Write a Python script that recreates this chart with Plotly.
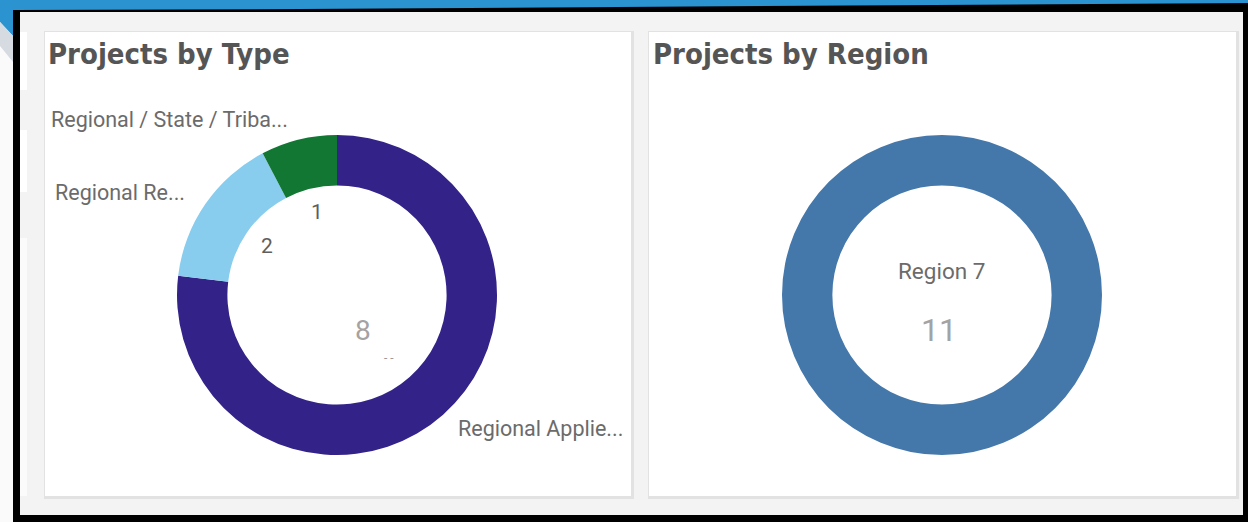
import plotly.graph_objects as go

W, H = 1248, 522

# ---- data ----
type_labels = ["Regional Applied Research", "Regional Research", "Regional / State / Tribal"]
type_short = ["Regional Applie...", "Regional Re...", "Regional / State / Triba..."]
type_values = [10, 2, 1]            # arc sizes read from the ring
type_value_text = ["8", "2", "1"]   # numbers printed on the ring
type_colors = ["#332288", "#88ccee", "#117733"]

region_labels = ["Region 7"]
region_values = [11]
region_colors = ["#4477aa"]

titles = ["Projects by Type", "Projects by Region"]


def px(x):
    return x / W


def py(y):
    return 1 - y / H


def rect(x0, y0, x1, y1, color, layer="below"):
    return dict(type="rect", xref="paper", yref="paper",
                x0=px(x0), x1=px(x1), y0=py(y1), y1=py(y0),
                fillcolor=color, line=dict(width=0), layer=layer)


def poly(points, color):
    path = "M " + " L ".join("{} {}".format(px(x), py(y)) for x, y in points) + " Z"
    return dict(type="path", xref="paper", yref="paper", path=path,
                fillcolor=color, line=dict(width=0), layer="below")


fig = go.Figure()

# donut 1 : center (337,295), r=160
fig.add_trace(go.Pie(
    labels=type_labels, values=type_values, hole=0.685, sort=False,
    direction="clockwise", rotation=0, textinfo="none", hoverinfo="label+value",
    marker=dict(colors=type_colors, line=dict(width=0)),
    domain=dict(x=[px(177), px(497)], y=[py(455), py(135)]),
    showlegend=False,
))

# donut 2 : center (942,295), r=160
fig.add_trace(go.Pie(
    labels=region_labels, values=region_values, hole=0.685, sort=False,
    direction="clockwise", rotation=0, textinfo="none", hoverinfo="label+value",
    marker=dict(colors=region_colors, line=dict(width=0)),
    domain=dict(x=[px(782), px(1102)], y=[py(455), py(135)]),
    showlegend=False,
))

shapes = []
# background / frame
shapes.append(rect(0, 0, W, H, "#000000"))
shapes.append(rect(0, 0, 13, H, "#fafafa"))
shapes.append(poly([(0, 0), (W, 0), (W, 3), (300, 9), (13, 10), (13, 36), (0, 22)], "#2a93d0"))
shapes.append(poly([(0, 22), (13, 36), (13, 62), (0, 46)], "#d5dbe1"))
shapes.append(rect(20, 12, 1243, 515, "#f3f3f3"))
# faint neighbouring panel edges
shapes.append(rect(20, 32, 27, 90, "#ffffff"))
shapes.append(rect(20, 130, 27, 192, "#ffffff"))
shapes.append(rect(20, 238, 27, 496, "#fbfbfb"))
# panels with shadow
for (x0, x1) in [(45, 631), (649, 1236)]:
    shapes.append(rect(x0 - 1, 31, x1 + 3, 499, "#e2e2e2"))
    shapes.append(rect(x0, 32, x1, 496, "#ffffff"))

annotations = []
# titles
for t, x in zip(titles, [46, 651]):
    annotations.append(dict(text="<b>" + t + "</b>", x=px(x), y=py(54), xref="paper", yref="paper",
                            xanchor="left", yanchor="middle", showarrow=False,
                            font=dict(family="DejaVu Sans Condensed, DejaVu Sans", size=29,
                                      color="#555555")))

lab_font = dict(family="Roboto, Noto Sans, Arial", size=21.5, color="#6b6b6b")
# outside labels (left donut)
lab_pos = [(456, 428), (53, 192), (49, 120)]
for txt, (x, y) in zip(type_short, lab_pos):
    annotations.append(dict(text=txt, x=px(x), y=py(y), xref="paper", yref="paper",
                            xanchor="left", yanchor="middle", showarrow=False, font=lab_font))

# value labels on the ring
val_pos = [(363, 330, 28, "#a3a3a3"), (267, 246, 21, "#5e5e5e"), (317, 212, 21, "#5e5e5e")]
for v, (x, y, s, c) in zip(type_value_text, val_pos):
    annotations.append(dict(text=v, x=px(x), y=py(y), xref="paper", yref="paper",
                            xanchor="center", yanchor="middle", showarrow=False,
                            font=dict(family="Roboto, Noto Sans, Arial", size=s, color=c)))
# clipped label fragment under the "8"
annotations.append(dict(text="- -", x=px(389), y=py(358), xref="paper", yref="paper",
                        xanchor="center", yanchor="middle", showarrow=False,
                        font=dict(family="Roboto, Arial", size=12, color="#9a9a9a")))

# right donut centre labels
annotations.append(dict(text=region_labels[0], x=px(941), y=py(271), xref="paper", yref="paper",
                        xanchor="center", yanchor="middle", showarrow=False,
                        font=dict(family="Roboto, Noto Sans, Arial", size=22.5, color="#6b6b6b")))
annotations.append(dict(text=str(region_values[0]), x=px(939), y=py(330), xref="paper", yref="paper",
                        xanchor="center", yanchor="middle", showarrow=False,
                        font=dict(family="Roboto, Noto Sans, Arial", size=32, color="#a3a3a3")))

fig.update_layout(
    width=W, height=H, margin=dict(l=0, r=0, t=0, b=0),
    paper_bgcolor="#000000", plot_bgcolor="#000000",
    shapes=shapes, annotations=annotations, showlegend=False,
)

fig.write_html("out.html")
